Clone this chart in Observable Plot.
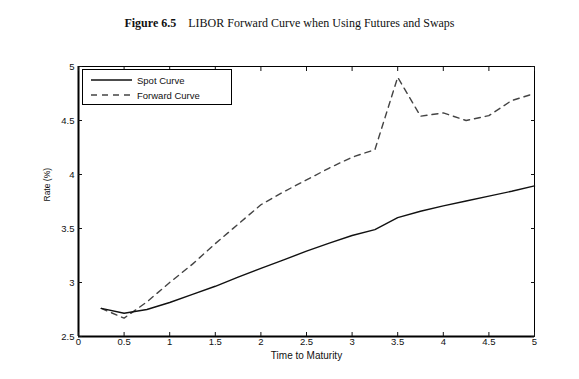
<!DOCTYPE html>
<html>
<head>
<meta charset="utf-8">
<script src="https://cdn.jsdelivr.net/npm/d3@7"></script>
<script src="https://cdn.jsdelivr.net/npm/@observablehq/plot@0.6"></script>
<style>
  body { margin: 0; background: #fff; }
  #wrap { position: relative; width: 579px; height: 379px; }
  #title { height: 40px; width: 579px; font-family: "Liberation Serif", "Times New Roman", serif; font-size: 12px; text-align: center; line-height: 46px; color: #111; white-space: pre; }
  #legend { position: absolute; left: 82px; top: 69px; width: 148px; height: 34px; border: 1px solid #000; background: #fff; font-family: "Liberation Sans", Arial, sans-serif; font-size: 9.5px; color: #111; }
  #legend .row { position: absolute; left: 8px; height: 10px; display: flex; align-items: center; }
  #legend svg { margin-right: 5px; }
</style>
</head>
<body>
<div id="wrap">
  <div id="title"><b>Figure 6.5</b>    LIBOR Forward Curve when Using Futures and Swaps</div>
  <div id="chart"></div>
  <div id="legend"></div>
</div>
<script>
const maturities = [0.25,0.5,0.75,1,1.25,1.5,1.75,2,2.25,2.5,2.75,3,3.25,3.5,3.75,4,4.25,4.5,4.75,5];
const spotRates = [2.76,2.715,2.75,2.815,2.89,2.965,3.05,3.13,3.21,3.29,3.365,3.435,3.49,3.6,3.66,3.71,3.755,3.8,3.845,3.895];
const forwardRates = [2.76,2.67,2.82,3.0,3.17,3.36,3.54,3.72,3.84,3.95,4.06,4.16,4.23,4.9,4.54,4.57,4.5,4.545,4.685,4.75];
const xTicks = [0,0.5,1,1.5,2,2.5,3,3.5,4,4.5,5];
const yTicks = [2.5,3,3.5,4,4.5,5];
const seriesNames = ["Spot Curve", "Forward Curve"];
const xLabel = "Time to Maturity";
const yLabel = "Rate (%)";

const spot = maturities.map((m, i) => ({m, r: spotRates[i]}));
const fwd = maturities.map((m, i) => ({m, r: forwardRates[i]}));
const fmt = d => String(d);

const chart = Plot.plot({
  width: 579,
  height: 339,
  marginTop: 26,
  marginBottom: 43,
  marginLeft: 78,
  marginRight: 45,
  style: {fontFamily: "Liberation Sans, Arial, sans-serif", fontSize: "9.5px", color: "#111", background: "#fff"},
  x: {domain: [0, 5], label: null},
  y: {domain: [2.5, 5], label: null},
  marks: [
    Plot.frame({stroke: "#000", strokeWidth: 1}),
    Plot.ruleX([0], {stroke: "#000", strokeWidth: 2}),
    Plot.ruleY([2.5], {stroke: "#000", strokeWidth: 2}),
    Plot.axisX(xTicks, {anchor: "bottom", tickSize: -4, tickPadding: 6, tickFormat: fmt}),
    Plot.axisX(xTicks, {anchor: "top", tickSize: -4, text: null, tickFormat: () => ""}),
    Plot.axisY(yTicks, {anchor: "left", tickSize: -4, tickPadding: 8, tickFormat: fmt}),
    Plot.axisY(yTicks, {anchor: "right", tickSize: -4, text: null, tickFormat: () => ""}),
    Plot.line(fwd, {x: "m", y: "r", stroke: "#444", strokeWidth: 1.4, strokeDasharray: "6,5"}),
    Plot.line(spot, {x: "m", y: "r", stroke: "#111", strokeWidth: 1.4}),
    Plot.text([xLabel], {frameAnchor: "bottom", dy: 22, fontSize: 10}),
    Plot.text([yLabel], {frameAnchor: "left", rotate: -90, dx: -31, fontSize: 8.5})
  ]
});
document.getElementById("chart").appendChild(chart);

const legend = document.getElementById("legend");
seriesNames.forEach((name, i) => {
  const row = document.createElement("div");
  row.className = "row";
  row.style.top = (i === 0 ? 5 : 20) + "px";
  const dash = i === 0 ? "" : 'stroke-dasharray="6,5"';
  const col = i === 0 ? "#111" : "#444";
  row.innerHTML = `<svg width="41" height="4"><line x1="0" y1="2" x2="41" y2="2" stroke="${col}" stroke-width="1.4" ${dash}/></svg><span>${name}</span>`;
  legend.appendChild(row);
});
</script>
</body>
</html>
